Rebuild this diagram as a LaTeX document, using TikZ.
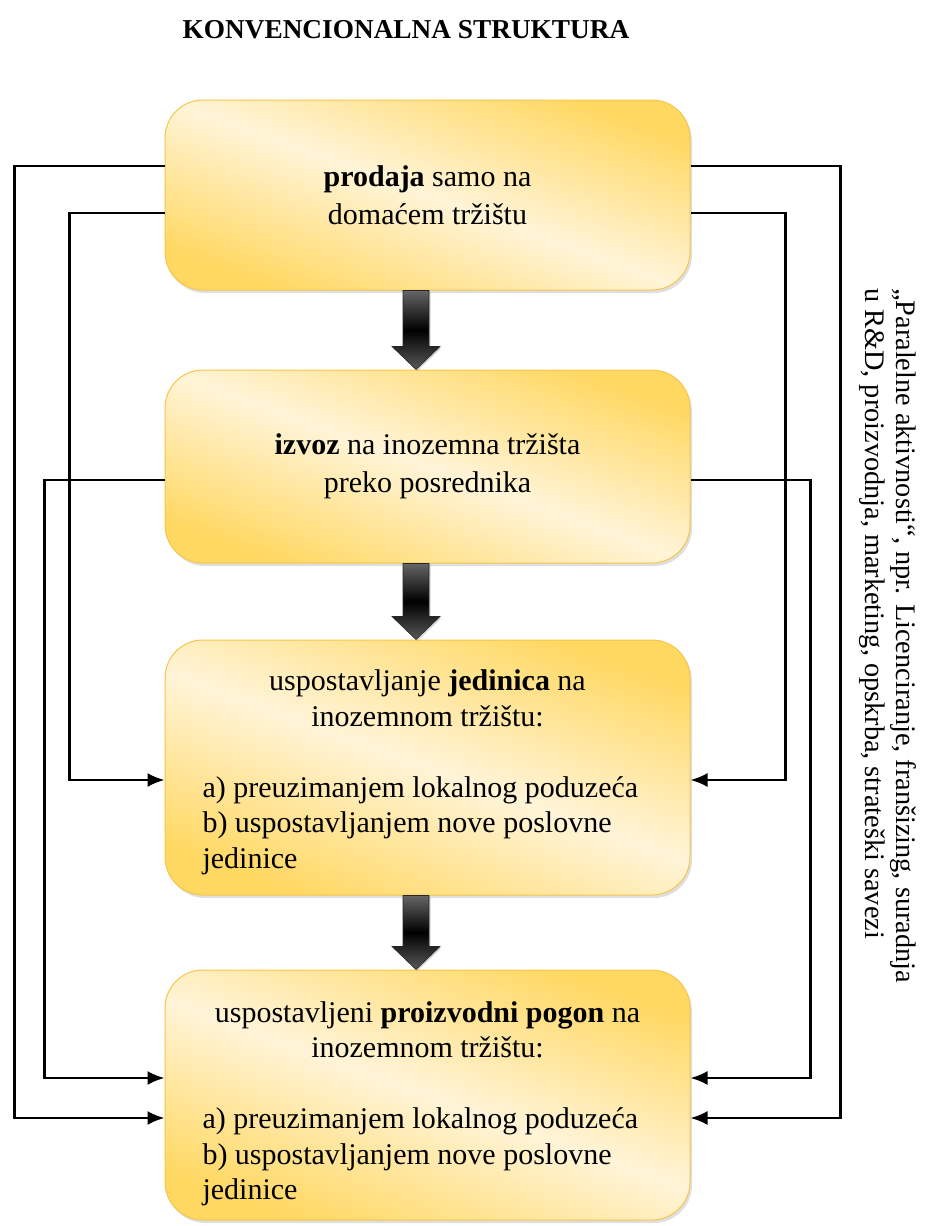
\documentclass[tikz,border=0pt]{standalone}
\usepackage{fontspec}
\setmainfont{Liberation Serif}
\usetikzlibrary{arrows.meta,shadows,calc}
\definecolor{gold}{HTML}{FFD862}
\definecolor{cream}{HTML}{FFF4D8}
\definecolor{boxline}{HTML}{F4C64E}
\newcommand\blkarrow[2]{%
  \path[bigarrow] ([xshift=-24.5pt]#1.south) -- ([xshift=-24.5pt,yshift=23pt]#2.north)
    -- ([xshift=-35.5pt,yshift=23pt]#2.north) -- ([xshift=-11.5pt]#2.north)
    -- ([xshift=12.5pt,yshift=23pt]#2.north) -- ([xshift=1.5pt,yshift=23pt]#2.north)
    -- ([xshift=1.5pt]#1.south) -- cycle;}
\begin{document}
\begin{tikzpicture}[x=1pt,y=-1pt,
  box/.style={draw=boxline, line width=1pt, rounded corners=38pt, minimum width=525pt,
    top color=gold, bottom color=gold, middle color=cream, shading angle=-20,
    drop shadow={opacity=0.25, shadow xshift=2pt, shadow yshift=-3pt},
    inner sep=0pt, font=\fontsize{30}{38}\selectfont, align=center},
  conn/.style={line width=2.2pt, -{Latex[length=17pt,width=14pt]}},
  bigarrow/.style={draw=black!85, line width=0.6pt, top color=black!60, bottom color=black!65, middle color=black,
    drop shadow={opacity=0.3, shadow xshift=1.5pt, shadow yshift=-1.5pt}}
]
\useasboundingbox (0,0) rectangle (930,1226);

\node[font=\bfseries\fontsize{27.3}{30}\selectfont, anchor=base, inner sep=0pt] (title) at (406,38) {KONVENCIONALNA STRUKTURA};

\node[box, minimum height=190pt] (b1) at (427.5,195) {\textbf{prodaja} samo na\\domaćem tržištu};
\node[box, minimum height=193pt] (b2) at (427.5,466.5) {\textbf{izvoz} na inozemna tržišta\\preko posrednika};
\node[box, minimum height=255pt, font=\fontsize{30}{35.5}\selectfont] (b3) at (427.5,767.5)
 {\begin{minipage}{450pt}\vspace*{10pt}\centering uspostavljanje \textbf{jedinica} na\\ inozemnom tržištu:\par\vspace{35.5pt}\raggedright a) preuzimanjem lokalnog poduzeća\\ b) uspostavljanjem nove poslovne\\ jedinice\end{minipage}};
\node[box, minimum height=250pt, font=\fontsize{30}{35.5}\selectfont] (b4) at (427.5,1095)
 {\begin{minipage}{450pt}\vspace*{18pt}\centering uspostavljeni \textbf{proizvodni pogon} na\\ inozemnom tržištu:\par\vspace{35.5pt}\raggedright a) preuzimanjem lokalnog poduzeća\\ b) uspostavljanjem nove poslovne\\ jedinice\end{minipage}};

\blkarrow{b1}{b2}
\blkarrow{b2}{b3}
\blkarrow{b3}{b4}

% left connectors
\draw[conn] ([yshift=29pt]b1.west) -- ++(-150pt,0pt) |- ([yshift=-23pt]b4.west);
\draw[conn] ([yshift=-18pt]b1.west) -- ++(-95pt,0pt) |- ([yshift=-12.5pt]b3.west);
\draw[conn] ([yshift=-13.5pt]b2.west) -- ++(-120pt,0pt) |- ([yshift=17pt]b4.west);
% right connectors
\draw[conn] ([yshift=29pt]b1.east) -- ++(150pt,0pt) |- ([yshift=-23pt]b4.east);
\draw[conn] ([yshift=-18pt]b1.east) -- ++(95pt,0pt) |- ([yshift=-12.5pt]b3.east);
\draw[conn] ([yshift=-13.5pt]b2.east) -- ++(120pt,0pt) |- ([yshift=17pt]b4.east);

\node[rotate=-90, anchor=north west, align=left, inner sep=0pt, font=\fontsize{28.3}{31}\selectfont] (side) at (917,288)
 {„Paralelne aktivnosti“, npr. Licenciranje, franšizing, suradnja\\u R\&D, proizvodnja, marketing, opskrba, strateški savezi};
\end{tikzpicture}
\end{document}
